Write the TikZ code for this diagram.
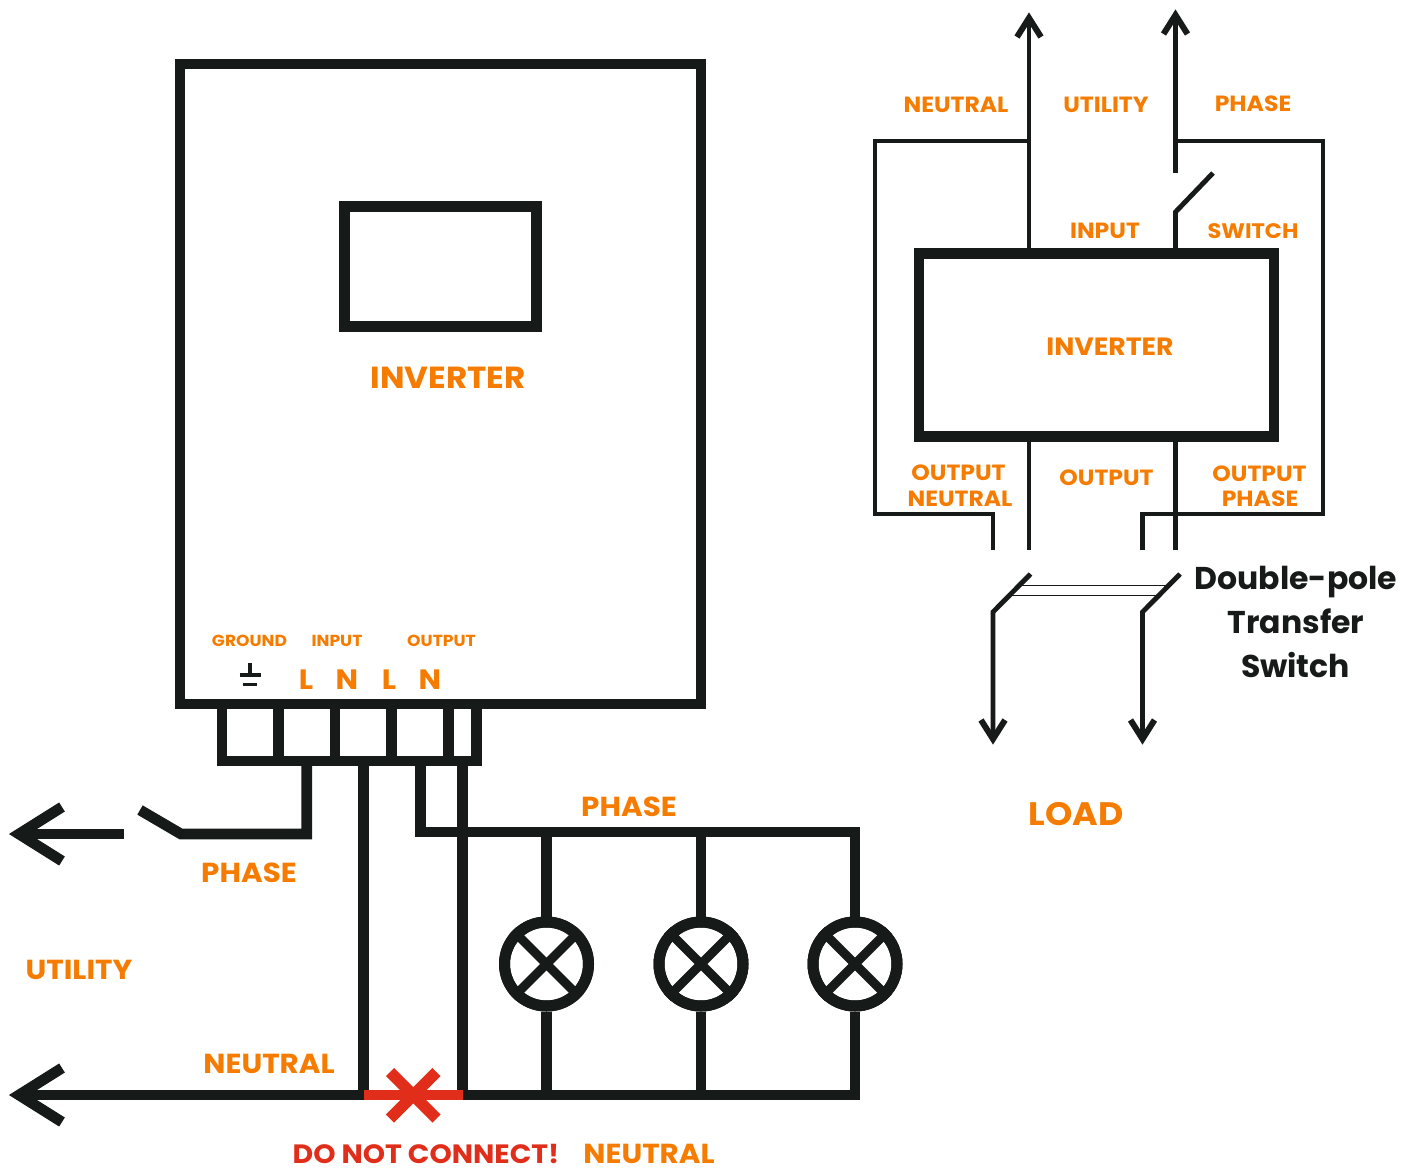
\documentclass[tikz,border=0pt]{standalone}
\usepackage{fontspec}
\setmainfont{Poppins}[BoldFeatures={FakeStretch=1.07}]
\newfontfamily\blkfont{Poppins}
\definecolor{ink}{HTML}{161A18}
\definecolor{lab}{HTML}{F57C00}
\definecolor{warn}{HTML}{E12E1B}
\tikzset{
  x=1pt,y=-1pt,
  wire/.style={draw=ink,line width=10.7pt,line cap=butt,line join=miter},
  thin wire/.style={draw=ink,line width=4.9pt,line cap=butt,line join=miter},
  barb/.style={draw=ink,line width=10.7pt,line join=miter,miter limit=10},
  barb small/.style={draw=ink,line width=6pt,line join=miter,miter limit=10},
  box/.style={draw=ink,line width=10.7pt,rectangle,inner sep=0pt,fill=none},
  lamp/.style={draw=ink,line width=11pt,circle,minimum size=84pt,inner sep=0pt,fill=white},
  lbl/.style={text=lab,font=\bfseries\fontsize{#1}{#1}\selectfont,inner sep=0pt,align=center},
  lbl/.default=22pt,
  blk/.style={text=ink,font=\blkfont\bfseries\fontsize{31.5pt}{31.5pt}\selectfont,inner sep=0pt},
  red lbl/.style={text=warn,font=\bfseries\fontsize{26.5pt}{26.5pt}\selectfont,inner sep=0pt},
}
\begin{document}
\begin{tikzpicture}
\useasboundingbox[fill=white] (0,0) rectangle (1418,1167);

% ---- named points, left diagram
\coordinate (tb1b) at (222,761);
\coordinate (tb1t) at (222,704);
\coordinate (tb6b) at (476.7,761);
\coordinate (tb6t) at (476.7,704);
\foreach \n/\xx in {d1/278.3,d2/335,d3/391.7,d4/448.3}{
  \coordinate (\n t) at (\xx,704);
  \coordinate (\n b) at (\xx,761);
}
\coordinate (phTop) at (306.7,761);
\coordinate (phCorner) at (306.7,834);
\coordinate (phHinge) at (181,834);
\coordinate (phBlade) at (140,810);
\coordinate (phLine) at (124,834);
\coordinate (phTip) at (19,834);
\coordinate (phBarbA) at (62,807);
\coordinate (phBarbB) at (62,861);
\coordinate (nTop) at (363.3,761);
\coordinate (nBot) at (363.3,1095);
\coordinate (oTop) at (420.5,761);
\coordinate (oCorner) at (420.5,832);
\coordinate (oEnd) at (855,832);
\coordinate (o2Top) at (462.7,761);
\coordinate (o2Bot) at (462.7,1095);
\coordinate (neuTip) at (19,1095);
\coordinate (neuBarbA) at (62,1068);
\coordinate (neuBarbB) at (62,1122);
\coordinate (tapA) at (546.5,832);
\coordinate (tapB) at (701,832);
\coordinate (botA) at (546.5,1095);
\coordinate (botB) at (701,1095);
\coordinate (botC) at (855,1095);

% ---- wires behind the boxes
\path[wire] (tb1t) -- (tb1b) -- (tb6b) -- (tb6t);
\foreach \n in {d1,d2,d3,d4}{\path[wire] (\n t) -- (\n b);}
\node[box,minimum width=521pt,minimum height=640pt] (inv) at (440.5,384) {};
\node[box,minimum width=192.5pt,minimum height=120.5pt] (disp) at (440.5,266.5) {};

\path[wire] (phTop) -- (phCorner) -- (phHinge) -- (phBlade);
\path[barb] (phLine) -- (phTip);
\path[barb] (phBarbA) -- (phTip) -- (phBarbB);
\path[wire] (nTop) -- (nBot);
\path[wire] (o2Top) -- (o2Bot);
\path[barb] (neuBarbA) -- (neuTip) -- (neuBarbB);

\node[lamp] (lampA) at (546.5,964) {};
\node[lamp] (lampB) at (701,964) {};
\node[lamp] (lampC) at (855,964) {};
\path[wire] (oTop) -- (oCorner) -- (oEnd) -- (lampC.north);
\path[wire] (tapA) -- (lampA.north);
\path[wire] (tapB) -- (lampB.north);
\path[wire] (lampA.south) -- (botA);
\path[wire] (lampB.south) -- (botB);
\path[wire] (lampC.south) -- (botC) -- (neuTip);
\foreach \l in {lampA,lampB,lampC}{
  \path[draw=ink,line width=9pt] (\l.north west) -- (\l.south east);
  \path[draw=ink,line width=9pt] (\l.north east) -- (\l.south west);
  \node[draw=ink,line width=11pt,circle,minimum size=84pt,inner sep=0pt] at (\l) {};
}

% red cross
\coordinate (xA) at (390,1072);
\coordinate (xB) at (436.5,1118.5);
\coordinate (xC) at (436.5,1072);
\coordinate (xD) at (390,1118.5);
\coordinate (rA) at (363.5,1095);
\coordinate (rB) at (463,1095);
\path[draw=warn,line width=10.7pt] (rA) -- (rB);
\path[draw=warn,line width=11.5pt] (xA) -- (xB);
\path[draw=warn,line width=11.5pt] (xC) -- (xD);

% ground symbol
\coordinate (g0) at (250,663);
\coordinate (g1) at (250,675);
\coordinate (gA) at (239.5,675);
\coordinate (gB) at (260.5,675);
\coordinate (gC) at (243,684.5);
\coordinate (gD) at (257,684.5);
\path[draw=ink,line width=3.8pt] (g0) -- (g1);
\path[draw=ink,line width=3.8pt] (gA) -- (gB);
\path[draw=ink,line width=3.8pt] (gC) -- (gD);

% ---- right diagram
\node[box,minimum width=355pt,minimum height=183pt] (inv2) at (1096.5,345) {};
\coordinate (ua) at (1029,18);
\coordinate (uaA) at (1017,37);
\coordinate (uaB) at (1041,37);
\coordinate (ub) at (1175.5,15);
\coordinate (ubA) at (1163.5,34);
\coordinate (ubB) at (1187.5,34);
\coordinate (uaJ) at (1029,141);
\coordinate (ubJ) at (1175.5,141);
\coordinate (ubEnd) at (1175.5,173);
\coordinate (swHinge) at (1175.5,212);
\coordinate (swTip) at (1213,173);
\coordinate (outA) at (1029,550);
\coordinate (outB) at (1175.5,550);
\path[thin wire] (ub) -- (ubEnd);
\path[thin wire] (inv2.north -| ub) -- (swHinge) -- (swTip);
\path[thin wire] (ua) -- (inv2.north -| ua);
\path[barb small] (uaA) -- (ua) -- (uaB);
\path[barb small] (ubA) -- (ub) -- (ubB);
\path[thin wire] (inv2.south -| ua) -- (outA);
\path[thin wire] (inv2.south -| ub) -- (outB);

\coordinate (nl1) at (875,141);
\coordinate (nl2) at (875,514);
\coordinate (nl3) at (993,514);
\coordinate (nl4) at (993,550);
\path[thin wire] (uaJ) -- (nl1) -- (nl2) -- (nl3) -- (nl4);
\coordinate (pl1) at (1323,141);
\coordinate (pl2) at (1323,514);
\coordinate (pl3) at (1142.5,514);
\coordinate (pl4) at (1142.5,550);
\path[thin wire] (ubJ) -- (pl1) -- (pl2) -- (pl3) -- (pl4);

\coordinate (ltA) at (1030.5,574);
\coordinate (ltH) at (993,612);
\coordinate (ltT) at (993,739);
\coordinate (ltB1) at (981,720);
\coordinate (ltB2) at (1005,720);
\coordinate (rtA) at (1180,574);
\coordinate (rtH) at (1142.5,612);
\coordinate (rtT) at (1142.5,739);
\coordinate (rtB1) at (1130.5,720);
\coordinate (rtB2) at (1154.5,720);
\path[thin wire] (ltA) -- (ltH) -- (ltT);
\path[thin wire] (rtA) -- (rtH) -- (rtT);
\path[barb small] (ltB1) -- (ltT) -- (ltB2);
\path[barb small] (rtB1) -- (rtT) -- (rtB2);
\coordinate (lkA1) at (1021,585);
\coordinate (lkA2) at (1166,585);
\coordinate (lkB1) at (1012,595);
\coordinate (lkB2) at (1156,595);
\path[draw=ink,line width=1pt] (lkA1) -- (lkA2);
\path[draw=ink,line width=1pt] (lkB1) -- (lkB2);

% ---- labels, left
\node[lbl=30.5pt] (tInv) at (448,378) {INVERTER};
\node[lbl=16pt] (tGnd) at (249.5,641) {GROUND};
\node[lbl=16pt] (tIn) at (337,641) {INPUT};
\node[lbl=16pt] (tOut) at (441.5,641) {OUTPUT};
\node[lbl=28pt] (tL1) at (306,680) {L};
\node[lbl=28pt] (tN1) at (347,680) {N};
\node[lbl=28pt] (tL2) at (389,680) {L};
\node[lbl=28pt] (tN2) at (430,680) {N};
\node[lbl=27.5pt] (tPh1) at (249,873) {PHASE};
\node[lbl=27.5pt] (tPh2) at (629,807) {PHASE};
\node[lbl=27.5pt] (tUt) at (79,970) {UTILITY};
\node[lbl=27.5pt] (tNe1) at (269,1064) {NEUTRAL};
\node[lbl=27.5pt] (tNe2) at (649,1153.5) {NEUTRAL};
\node[red lbl] (tDo) at (426,1153.5) {DO NOT CONNECT!};

% ---- labels, right
\node[lbl=22pt] (rNe) at (956,105) {NEUTRAL};
\node[lbl=22pt] (rUt) at (1106,105) {UTILITY};
\node[lbl=22pt] (rPh) at (1253,104) {PHASE};
\node[lbl=22pt] (rIn) at (1105,231) {INPUT};
\node[lbl=21pt] (rSw) at (1253,231) {SWITCH};
\node[lbl=25pt] (rInv) at (1110,347) {INVERTER};
\node[lbl=22pt] (rOn1) at (958.5,473) {OUTPUT};
\node[lbl=22pt] (rOn2) at (960,499) {NEUTRAL};
\node[lbl=22pt] (rOu) at (1106.5,478) {OUTPUT};
\node[lbl=22pt] (rOp1) at (1259.5,474) {OUTPUT};
\node[lbl=22pt] (rOp2) at (1260,499) {PHASE};
\node[lbl=32.5pt] (rLoad) at (1076,814) {LOAD};
\node[blk] (rD1) at (1296,582) {Double-pole};
\node[blk] (rD2) at (1296,621) {Transfer};
\node[blk] (rD3) at (1295.5,665) {Switch};
\end{tikzpicture}
\end{document}
